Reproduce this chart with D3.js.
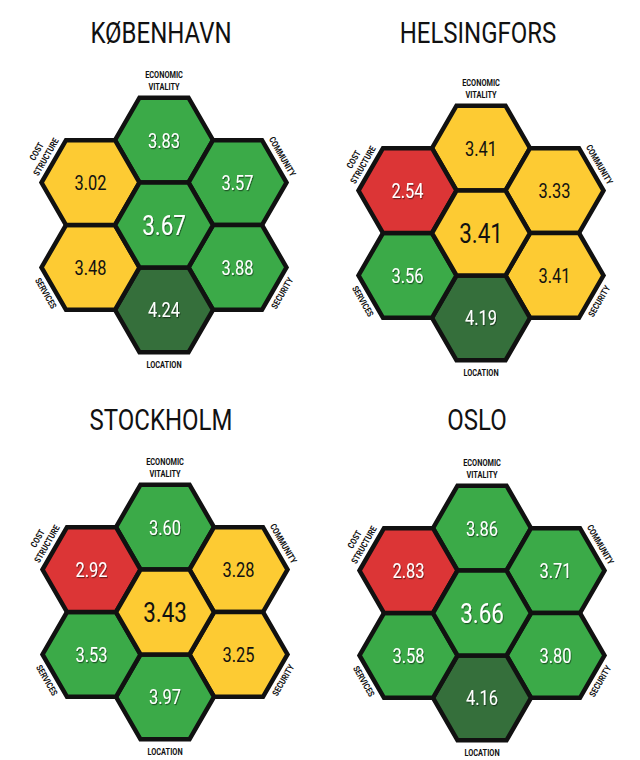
<!DOCTYPE html>
<html><head><meta charset="utf-8">
<script src="https://cdn.jsdelivr.net/npm/d3@7"></script>
<style>
html,body{margin:0;padding:0;background:#fff;}
svg{display:block;}
</style></head>
<body>
<svg id="chart" width="640" height="760"></svg>
<script>
// ---- data ----
const cities = ["KØBENHAVN", "HELSINGFORS", "STOCKHOLM", "OSLO"];
const overall         = [3.67, 3.41, 3.43, 3.66];
const economicVitality = [3.83, 3.41, 3.60, 3.86];
const community       = [3.57, 3.33, 3.28, 3.71];
const security        = [3.88, 3.41, 3.25, 3.80];
const locationScore   = [4.24, 4.19, 3.97, 4.16];
const services        = [3.48, 3.56, 3.53, 3.58];
const costStructure   = [3.02, 2.54, 2.92, 2.83];
const thresholds = [3.0, 3.5, 4.0];
const bandColors = ["#dc3536", "#fdcb33", "#3baa48", "#356f3b"];

// ---- layout ----
const R = 49;
const S3 = Math.sqrt(3);
const panelCenters = [[164, 225], [481, 233], [165, 612], [482, 613]];
const titleY = [43, 43, 430, 430];
const titleX = [161, 478, 161, 477];

const color = d3.scaleThreshold().domain(thresholds).range(bandColors);
const darkText = d3.scaleThreshold().domain(thresholds).range([false, true, false, false]);

const svg = d3.select("#chart");
const defs = svg.append("defs");
const f = defs.append("filter").attr("id", "sh").attr("x", "-20%").attr("y", "-20%").attr("width", "140%").attr("height", "140%");
f.append("feDropShadow").attr("dx", 1).attr("dy", 1.2).attr("stdDeviation", 0.7).attr("flood-color", "#000").attr("flood-opacity", 0.5);

const FONT = "Roboto, 'Noto Sans', sans-serif";
const hexLine = d3.line().curve(d3.curveLinearClosed);

cities.forEach((city, i) => {
  const [cx, cy] = panelCenters[i];
  const x = d3.scaleLinear().domain([-1, 1]).range([cx - 1.5 * R, cx + 1.5 * R]);
  const y = d3.scaleLinear().domain([-1, 1]).range([cy - S3 * R, cy + S3 * R]);
  const cells = [
    {key: "econ", col: 0, row: -1, v: economicVitality[i]},
    {key: "comm", col: 1, row: -0.5, v: community[i]},
    {key: "sec", col: 1, row: 0.5, v: security[i]},
    {key: "loc", col: 0, row: 1, v: locationScore[i]},
    {key: "serv", col: -1, row: 0.5, v: services[i]},
    {key: "cost", col: -1, row: -0.5, v: costStructure[i]},
    {key: "all", col: 0, row: 0, v: overall[i]}
  ];
  const g = svg.append("g");

  g.append("text")
    .attr("transform", `translate(${titleX[i]},${titleY[i]}) scale(0.8,1)`)
    .attr("text-anchor", "middle")
    .attr("font-family", FONT)
    .attr("font-weight", 400)
    .attr("font-size", 30)
    .attr("fill", "#111")
    .text(city);

  const cg = g.selectAll("g.cell").data(cells).join("g").attr("class", "cell");
  cg.append("path")
    .attr("d", d => {
      const px = x(d.col), py = y(d.row);
      const pts = d3.range(6).map(k => {
        const a = Math.PI / 3 * k;
        return [px + R * Math.cos(a), py + R * Math.sin(a)];
      });
      return hexLine(pts);
    })
    .attr("fill", d => color(d.v))
    .attr("stroke", "#111")
    .attr("stroke-width", 4.5)
    .attr("stroke-linejoin", "miter");

  cg.append("text")
    .attr("transform", d => `translate(${x(d.col)},${y(d.row)}) scale(0.8,1)`)
    .attr("dy", "0.36em")
    .attr("text-anchor", "middle")
    .attr("font-family", FONT)
    .attr("font-size", d => d.key === "all" ? 28 : 20.5)
    .attr("fill", d => darkText(d.v) ? "#111" : "#fff")
    .attr("filter", d => darkText(d.v) ? null : "url(#sh)")
    .text(d => d.v.toFixed(2));

  // labels
  const lab = (txt, px, py, rot) => {
    g.append("text")
      .attr("transform", `translate(${px},${py}) rotate(${rot}) scale(0.82,1)`)
      .attr("dy", "0.36em")
      .attr("text-anchor", "middle")
      .attr("font-family", FONT)
      .attr("font-weight", "bold")
      .attr("font-size", 9)
      .attr("fill", "#111")
      .text(txt);
  };
  const hTop = y(-1) - S3 / 2 * R;
  const hBot = y(1) + S3 / 2 * R;
  lab("ECONOMIC", cx, hTop - 23, 0);
  lab("VITALITY", cx, hTop - 11, 0);
  lab("LOCATION", cx, hBot + 12.5, 0);

  // edge midpoints
  const ex = 1.5 * R + 0.75 * R, ey = S3 / 2 * R * 0.5 + S3 / 2 * R;
  const nx = 0.866, ny = 0.5;
  const edge = (sx, sy, d) => [cx + sx * ex + sx * nx * d, cy + sy * ey + sy * ny * d];
  let p;
  p = edge(-1, -1, 20); lab("COST", p[0], p[1], -60);
  p = edge(-1, -1, 9); lab("STRUCTURE", p[0], p[1], -60);
  p = edge(1, -1, 9.5); lab("COMMUNITY", p[0], p[1], 60);
  p = edge(-1, 1, 9); lab("SERVICES", p[0], p[1], 60);
  p = edge(1, 1, 9); lab("SECURITY", p[0], p[1], -60);
});
</script>
</body></html>
